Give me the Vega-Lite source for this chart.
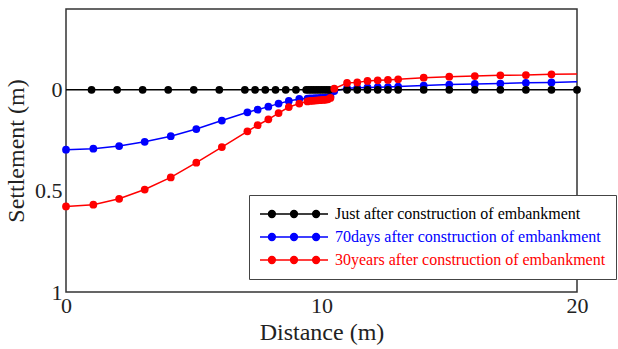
{
  "$schema": "https://vega.github.io/schema/vega-lite/v6.json",
  "width": 511,
  "height": 283,
  "autosize": "none",
  "padding": {"left": 66, "top": 9, "right": 41, "bottom": 57},
  "background": "white",
  "config": {
    "font": "Liberation Serif",
    "view": {"stroke": "#333333", "strokeWidth": 1.5},
    "axis": {"domain": false, "grid": false, "tickColor": "#333333", "tickWidth": 1, "labelColor": "#222222", "titleColor": "#222222", "labelFont": "Liberation Serif", "titleFont": "Liberation Serif", "labelFontSize": 22, "titleFontSize": 24, "titleFontWeight": "normal", "tickSize": 0}
  },
  "datasets": {
    "settle": [
      {"series": "70days after construction of embankment", "distance": 0, "settlement": 0.296},
      {"series": "70days after construction of embankment", "distance": 1.07, "settlement": 0.291},
      {"series": "70days after construction of embankment", "distance": 2.08, "settlement": 0.278},
      {"series": "70days after construction of embankment", "distance": 3.08, "settlement": 0.257},
      {"series": "70days after construction of embankment", "distance": 4.1, "settlement": 0.229},
      {"series": "70days after construction of embankment", "distance": 5.1, "settlement": 0.194},
      {"series": "70days after construction of embankment", "distance": 6.1, "settlement": 0.152},
      {"series": "70days after construction of embankment", "distance": 7.1, "settlement": 0.111},
      {"series": "70days after construction of embankment", "distance": 7.5, "settlement": 0.098},
      {"series": "70days after construction of embankment", "distance": 7.92, "settlement": 0.083},
      {"series": "70days after construction of embankment", "distance": 8.32, "settlement": 0.068},
      {"series": "70days after construction of embankment", "distance": 8.72, "settlement": 0.055},
      {"series": "70days after construction of embankment", "distance": 9.13, "settlement": 0.045},
      {"series": "70days after construction of embankment", "distance": 9.45, "settlement": 0.043},
      {"series": "70days after construction of embankment", "distance": 9.55, "settlement": 0.042},
      {"series": "70days after construction of embankment", "distance": 9.65, "settlement": 0.042},
      {"series": "70days after construction of embankment", "distance": 9.75, "settlement": 0.041},
      {"series": "70days after construction of embankment", "distance": 9.85, "settlement": 0.041},
      {"series": "70days after construction of embankment", "distance": 9.95, "settlement": 0.04},
      {"series": "70days after construction of embankment", "distance": 10.05, "settlement": 0.04},
      {"series": "70days after construction of embankment", "distance": 10.15, "settlement": 0.039},
      {"series": "70days after construction of embankment", "distance": 10.25, "settlement": 0.037},
      {"series": "70days after construction of embankment", "distance": 10.35, "settlement": 0.033},
      {"series": "70days after construction of embankment", "distance": 10.5, "settlement": 0.006},
      {"series": "70days after construction of embankment", "distance": 11, "settlement": -0.008},
      {"series": "70days after construction of embankment", "distance": 11.4, "settlement": -0.01},
      {"series": "70days after construction of embankment", "distance": 11.8, "settlement": -0.012},
      {"series": "70days after construction of embankment", "distance": 12.2, "settlement": -0.013},
      {"series": "70days after construction of embankment", "distance": 12.6, "settlement": -0.014},
      {"series": "70days after construction of embankment", "distance": 13, "settlement": -0.016},
      {"series": "70days after construction of embankment", "distance": 14, "settlement": -0.021},
      {"series": "70days after construction of embankment", "distance": 15, "settlement": -0.026},
      {"series": "70days after construction of embankment", "distance": 16, "settlement": -0.029},
      {"series": "70days after construction of embankment", "distance": 17, "settlement": -0.031},
      {"series": "70days after construction of embankment", "distance": 18, "settlement": -0.035},
      {"series": "70days after construction of embankment", "distance": 19, "settlement": -0.037},
      {"series": "70days after construction of embankment", "distance": 20, "settlement": -0.04},

      {"series": "Just after construction of embankment", "distance": 0, "settlement": 0},
      {"series": "Just after construction of embankment", "distance": 1, "settlement": 0},
      {"series": "Just after construction of embankment", "distance": 2, "settlement": 0},
      {"series": "Just after construction of embankment", "distance": 3, "settlement": 0},
      {"series": "Just after construction of embankment", "distance": 4, "settlement": 0},
      {"series": "Just after construction of embankment", "distance": 5, "settlement": 0},
      {"series": "Just after construction of embankment", "distance": 6, "settlement": 0},
      {"series": "Just after construction of embankment", "distance": 7, "settlement": 0},
      {"series": "Just after construction of embankment", "distance": 7.4, "settlement": 0},
      {"series": "Just after construction of embankment", "distance": 7.8, "settlement": 0},
      {"series": "Just after construction of embankment", "distance": 8.2, "settlement": 0},
      {"series": "Just after construction of embankment", "distance": 8.6, "settlement": 0},
      {"series": "Just after construction of embankment", "distance": 9, "settlement": 0},
      {"series": "Just after construction of embankment", "distance": 9.4, "settlement": 0},
      {"series": "Just after construction of embankment", "distance": 9.5, "settlement": 0},
      {"series": "Just after construction of embankment", "distance": 9.6, "settlement": 0},
      {"series": "Just after construction of embankment", "distance": 9.7, "settlement": 0},
      {"series": "Just after construction of embankment", "distance": 9.8, "settlement": 0},
      {"series": "Just after construction of embankment", "distance": 9.9, "settlement": 0},
      {"series": "Just after construction of embankment", "distance": 10, "settlement": 0},
      {"series": "Just after construction of embankment", "distance": 10.1, "settlement": 0},
      {"series": "Just after construction of embankment", "distance": 10.2, "settlement": 0},
      {"series": "Just after construction of embankment", "distance": 10.3, "settlement": 0},
      {"series": "Just after construction of embankment", "distance": 11, "settlement": 0},
      {"series": "Just after construction of embankment", "distance": 11.4, "settlement": 0},
      {"series": "Just after construction of embankment", "distance": 11.8, "settlement": 0},
      {"series": "Just after construction of embankment", "distance": 12.2, "settlement": 0},
      {"series": "Just after construction of embankment", "distance": 12.6, "settlement": 0},
      {"series": "Just after construction of embankment", "distance": 13, "settlement": 0},
      {"series": "Just after construction of embankment", "distance": 14, "settlement": 0},
      {"series": "Just after construction of embankment", "distance": 15, "settlement": 0},
      {"series": "Just after construction of embankment", "distance": 16, "settlement": 0},
      {"series": "Just after construction of embankment", "distance": 17, "settlement": 0},
      {"series": "Just after construction of embankment", "distance": 18, "settlement": 0},
      {"series": "Just after construction of embankment", "distance": 19, "settlement": 0},
      {"series": "Just after construction of embankment", "distance": 20, "settlement": 0},

      {"series": "30years after construction of embankment", "distance": 0, "settlement": 0.577},
      {"series": "30years after construction of embankment", "distance": 1.07, "settlement": 0.568},
      {"series": "30years after construction of embankment", "distance": 2.08, "settlement": 0.539},
      {"series": "30years after construction of embankment", "distance": 3.08, "settlement": 0.493},
      {"series": "30years after construction of embankment", "distance": 4.1, "settlement": 0.433},
      {"series": "30years after construction of embankment", "distance": 5.1, "settlement": 0.36},
      {"series": "30years after construction of embankment", "distance": 6.1, "settlement": 0.283},
      {"series": "30years after construction of embankment", "distance": 7.1, "settlement": 0.205},
      {"series": "30years after construction of embankment", "distance": 7.5, "settlement": 0.175},
      {"series": "30years after construction of embankment", "distance": 7.92, "settlement": 0.146},
      {"series": "30years after construction of embankment", "distance": 8.32, "settlement": 0.115},
      {"series": "30years after construction of embankment", "distance": 8.72, "settlement": 0.085},
      {"series": "30years after construction of embankment", "distance": 9.13, "settlement": 0.068},
      {"series": "30years after construction of embankment", "distance": 9.45, "settlement": 0.057},
      {"series": "30years after construction of embankment", "distance": 9.55, "settlement": 0.055},
      {"series": "30years after construction of embankment", "distance": 9.65, "settlement": 0.054},
      {"series": "30years after construction of embankment", "distance": 9.75, "settlement": 0.053},
      {"series": "30years after construction of embankment", "distance": 9.85, "settlement": 0.052},
      {"series": "30years after construction of embankment", "distance": 9.95, "settlement": 0.051},
      {"series": "30years after construction of embankment", "distance": 10.05, "settlement": 0.05},
      {"series": "30years after construction of embankment", "distance": 10.15, "settlement": 0.049},
      {"series": "30years after construction of embankment", "distance": 10.25, "settlement": 0.047},
      {"series": "30years after construction of embankment", "distance": 10.35, "settlement": 0.04},
      {"series": "30years after construction of embankment", "distance": 10.5, "settlement": -0.006},
      {"series": "30years after construction of embankment", "distance": 11, "settlement": -0.034},
      {"series": "30years after construction of embankment", "distance": 11.4, "settlement": -0.037},
      {"series": "30years after construction of embankment", "distance": 11.8, "settlement": -0.044},
      {"series": "30years after construction of embankment", "distance": 12.2, "settlement": -0.047},
      {"series": "30years after construction of embankment", "distance": 12.6, "settlement": -0.049},
      {"series": "30years after construction of embankment", "distance": 13, "settlement": -0.052},
      {"series": "30years after construction of embankment", "distance": 14, "settlement": -0.06},
      {"series": "30years after construction of embankment", "distance": 15, "settlement": -0.065},
      {"series": "30years after construction of embankment", "distance": 16, "settlement": -0.068},
      {"series": "30years after construction of embankment", "distance": 17, "settlement": -0.072},
      {"series": "30years after construction of embankment", "distance": 18, "settlement": -0.073},
      {"series": "30years after construction of embankment", "distance": 19, "settlement": -0.077},
      {"series": "30years after construction of embankment", "distance": 20, "settlement": -0.078}
    ]
  },
  "data": {"name": "settle"},
  "layer": [
    {
      "mark": {"type": "line", "strokeWidth": 1.5},
      "encoding": {
        "x": {"field": "distance", "type": "quantitative", "scale": {"domain": [0, 20], "nice": false, "zero": false},
          "axis": {"orient": "bottom", "title": "Distance (m)", "values": [0, 5, 10, 15, 20], "labelExpr": "datum.value % 10 == 0 ? datum.label : ''", "labelPadding": 3, "titlePadding": 4, "labelFlush": false,
            "encode": {"ticks": {"update": {"y2": {"signal": "datum.value % 10 == 0 ? -10 : -5"}}}}}},
        "y": {"field": "settlement", "type": "quantitative", "scale": {"domain": [-0.4, 1], "reverse": true, "nice": false, "zero": false},
          "axis": {"orient": "left", "title": "Settlement (m)", "values": [-0.3, -0.2, -0.1, 0, 0.1, 0.2, 0.3, 0.4, 0.5, 0.6, 0.7, 0.8, 0.9, 1], "format": ".1~f", "labelExpr": "datum.value == 0 || datum.value == 0.5 || datum.value == 1 ? datum.label : ''", "labelPadding": 4, "titlePadding": 6, "labelFlush": false,
            "encode": {"ticks": {"update": {"x2": {"signal": "datum.value == 0 || datum.value == 0.5 || datum.value == 1 ? 9 : 5"}}}}}},
        "color": {"field": "series", "type": "nominal",
          "scale": {"domain": ["Just after construction of embankment", "70days after construction of embankment", "30years after construction of embankment"], "range": ["#000000", "#0000ff", "#ff0000"]},
          "legend": {
            "orient": "none", "legendX": 183, "legendY": 186, "title": null,
            "symbolType": "M-1,0L1,0M-0.75,0A0.1,0.1,0,1,0,-0.55,0A0.1,0.1,0,1,0,-0.75,0ZM-0.1,0A0.1,0.1,0,1,0,0.1,0A0.1,0.1,0,1,0,-0.1,0ZM0.55,0A0.1,0.1,0,1,0,0.75,0A0.1,0.1,0,1,0,0.55,0Z",
            "symbolSize": 4624, "symbolStrokeWidth": 1.5, "symbolOpacity": 1,
            "labelFont": "Liberation Serif", "labelFontSize": 16, "labelOffset": 6, "labelLimit": 0,
            "padding": 10, "strokeColor": "#444444", "fillColor": "white", "rowPadding": 5, "clipHeight": 18,
            "encode": {
              "labels": {"update": {"fill": {"scale": "color", "field": "value"}}},
              "symbols": {"update": {"fill": {"scale": "color", "field": "value"}, "stroke": {"scale": "color", "field": "value"}, "opacity": {"value": 1}}}
            }
          }
        }
      }
    },
    {
      "transform": [
        {"filter": "(datum.series == 'Just after construction of embankment' && datum.distance > 0) || (datum.series != 'Just after construction of embankment' && datum.distance < 20)"}
      ],
      "mark": {"type": "point", "filled": true, "size": 60, "opacity": 1},
      "encoding": {
        "x": {"field": "distance", "type": "quantitative",
          "axis": {"orient": "top", "title": null, "labels": false, "values": [5, 10, 15],
            "encode": {"ticks": {"update": {"y2": {"signal": "datum.value % 10 == 0 ? 10 : 5"}}}}}},
        "y": {"field": "settlement", "type": "quantitative",
          "axis": {"orient": "right", "title": null, "labels": false, "values": [-0.3, -0.2, -0.1, 0, 0.1, 0.2, 0.3, 0.4, 0.5, 0.6, 0.7, 0.8, 0.9],
            "encode": {"ticks": {"update": {"x2": {"signal": "datum.value == 0 || datum.value == 0.5 ? -9 : -5"}}}}}},
        "color": {"field": "series", "type": "nominal"}
      }
    }
  ]
}
